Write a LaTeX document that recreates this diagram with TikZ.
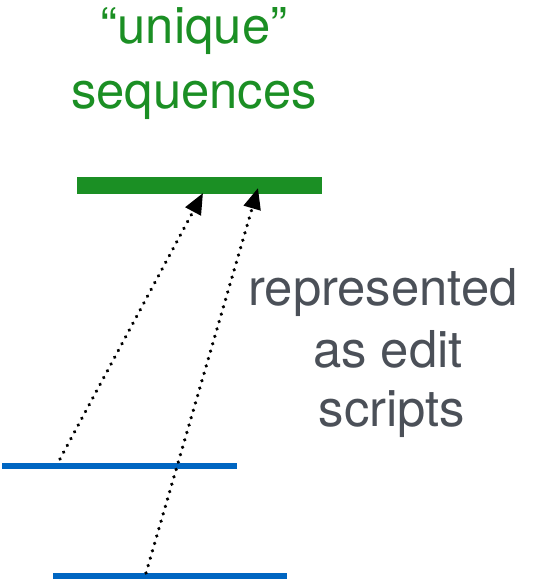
\documentclass[tikz,border=0pt]{standalone}
\usepackage{fontspec}
\setmainfont{TeX Gyre Heros}
\usetikzlibrary{arrows.meta}
\definecolor{seqgreen}{HTML}{1B8F24}
\definecolor{seqblue}{HTML}{0066C2}
\definecolor{notegray}{HTML}{4B5058}
\tikzset{
  bigtext/.style={anchor=base,inner sep=0pt,font=\fontsize{51}{62}\selectfont},
  editarrow/.style={-{Triangle[length=21bp,width=17bp]},line width=3.6bp,
    dash pattern=on 0.1bp off 7.6bp,line cap=round}
}
\begin{document}
\begin{tikzpicture}[x=1bp,y=-1bp]
  \useasboundingbox (0,0) rectangle (534,585);
  \node[bigtext,seqgreen] (uq) at (194,44)  {“unique”};
  \node[bigtext,seqgreen] (sq) at (194,109) {sequences};

  \node[bigtext,notegray] (rep) at (383,305) {represented};
  \node[bigtext,notegray] (ase) at (388,367) {as edit};
  \node[bigtext,notegray] (scr) at (392,426) {scripts};

  % sequences
  \fill[seqgreen] (77,176.5) rectangle (322,193.5);
  \draw[seqblue,line width=5.5bp] (2,466) -- (237,466);
  \draw[seqblue,line width=5.5bp] (53,576) -- (287,576);

  \coordinate (a1) at (60,459);
  \coordinate (b1) at (203,193);
  \coordinate (a2) at (146,573);
  \coordinate (b2) at (258,188);

  \draw[editarrow] (a1) -- (b1);
  \draw[editarrow] (a2) -- (b2);
\end{tikzpicture}
\end{document}
